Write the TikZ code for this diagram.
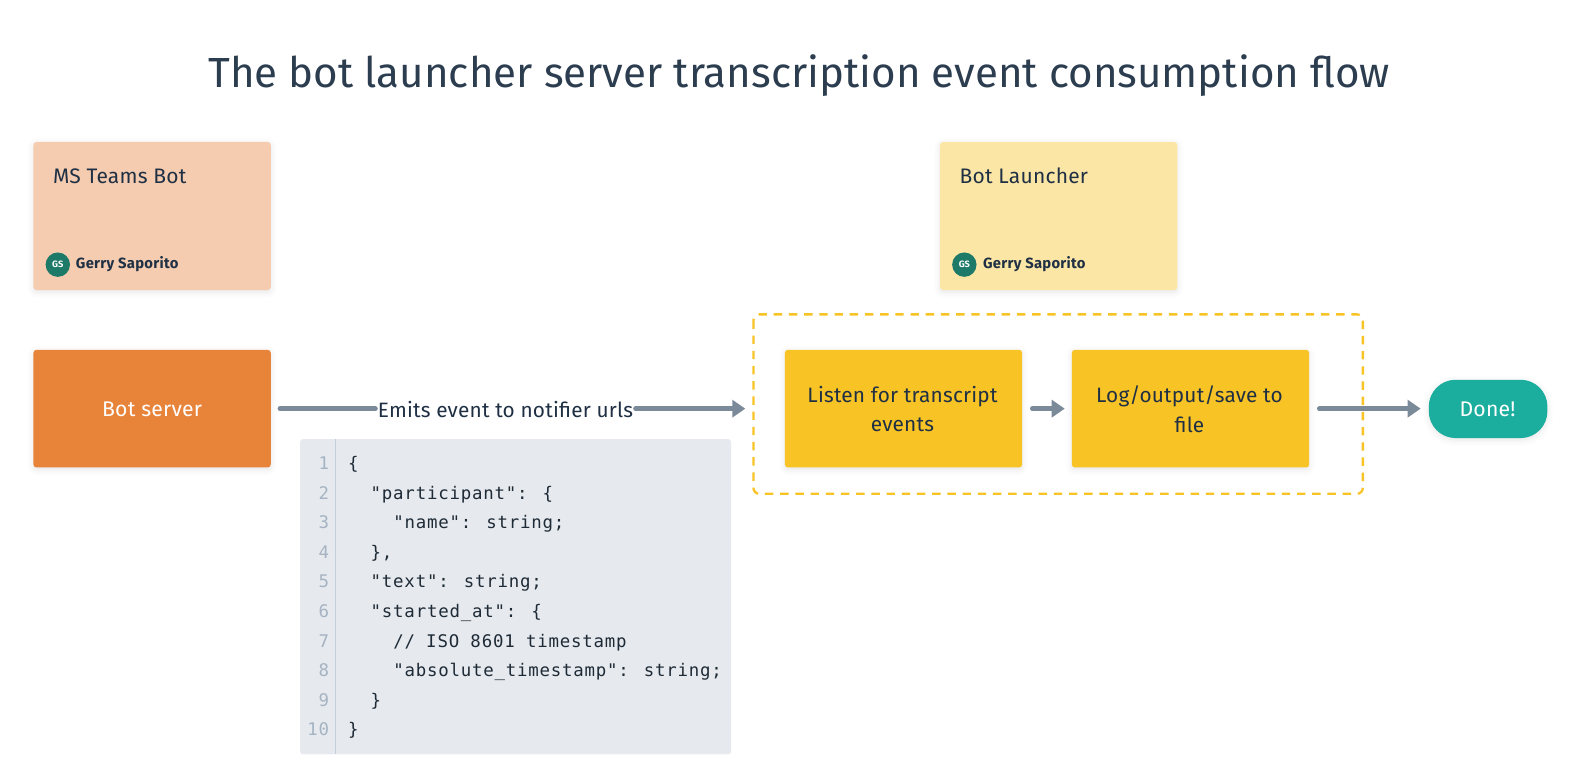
\documentclass[tikz,border=0pt]{standalone}
\usepackage{fontspec}
\setmainfont{Fira Sans}
\newfontfamily\codefont{DejaVu Sans Mono}
\usetikzlibrary{arrows.meta,shadows.blur}
\definecolor{ink}{HTML}{1F3044}
\definecolor{titleink}{HTML}{2B3D4F}
\definecolor{peach}{HTML}{F5CCB0}
\definecolor{paleyellow}{HTML}{FCE6A6}
\definecolor{orangebox}{HTML}{E8833A}
\definecolor{yellowbox}{HTML}{F8C325}
\definecolor{tealbox}{HTML}{1BAE9F}
\definecolor{avatar}{HTML}{1D7A68}
\definecolor{arrowgrey}{HTML}{7B8A99}
\definecolor{codebg}{HTML}{E6EAEE}
\definecolor{gutter}{HTML}{C5CFD9}
\definecolor{lineno}{HTML}{A5B3C2}
\definecolor{codeink}{HTML}{1E2A36}
\tikzset{
  x=0.507pt,y=-0.507pt,
  softshadow/.style={blur shadow={shadow xshift=0pt,shadow yshift=-1pt,shadow blur radius=3pt,shadow opacity=10}},
  card/.style={rounded corners=1.5pt,softshadow,inner sep=0pt,outer sep=0pt},
  label/.style={font=\fontsize{10.4}{14.8}\selectfont\addfontfeature{LetterSpace=1},text=ink,align=center,inner sep=0pt},
  whitelabel/.style={font=\fontsize{10.6}{14}\selectfont\addfontfeature{LetterSpace=1},text=white,inner sep=0pt},
  flow/.style={draw=arrowgrey,line width=2.3pt,line cap=round,-{Triangle[length=6.5pt,width=8.5pt]}},
  codeline/.style={font=\codefont\fontsize{8.7}{10}\selectfont\addfontfeature{LetterSpace=4.5},text=codeink,anchor=base west,inner sep=0pt},
  numline/.style={font=\codefont\fontsize{8.7}{10}\selectfont\addfontfeature{LetterSpace=4.5},text=lineno,anchor=base east,inner sep=0pt},
  avatardot/.style={circle,fill=avatar,minimum size=12.2pt,inner sep=0pt,text=white,font=\fontsize{4.6}{5}\selectfont\bfseries},
  author/.style={font=\fontsize{7.4}{9}\selectfont\bfseries\addfontfeature{LetterSpace=2},text=ink,anchor=base west,inner sep=0pt},
  cardtitle/.style={font=\fontsize{10.5}{12}\selectfont\addfontfeature{LetterSpace=1},text=ink,anchor=base west,inner sep=0pt}
}
\begin{document}
\begin{tikzpicture}
\useasboundingbox (0,0) rectangle (1568,759.3);
\node[font=\fontsize{21.05}{26}\selectfont,text=titleink,inner sep=0pt] (title) at (788,74.5) {The bot launcher server transcription event consumption flow};

% sticky notes
\path[card,fill=peach] (33,140) rectangle (267,286);
\node[cardtitle] (n1) at (52,181) {MS Teams Bot};
\node[avatardot] (a1) at (57,261) {GS};
\node[author] (g1) at (74.5,265) {Gerry Saporito};
\path[card,fill=paleyellow] (927,140) rectangle (1161,286);
\node[cardtitle] (n2) at (946,181) {Bot Launcher};
\node[avatardot] (a2) at (951,261) {GS};
\node[author] (g2) at (969,265) {Gerry Saporito};

% dashed group
\draw[draw=yellowbox,line width=1.15pt,dash pattern=on 4.2pt off 3.4pt,rounded corners=3pt] (743,310) rectangle (1344,487);

% process boxes
\path[card,fill=orangebox] (33,345) rectangle (267,461);
\node[whitelabel] (bot) at (150,403.5) {Bot server};
\coordinate (botE) at (276,403);
\path[card,fill=yellowbox] (774,345) rectangle (1008,461);
\node[label] (listen) at (890,403.5) {Listen for transcript\\events};
\path[card,fill=yellowbox] (1057,345) rectangle (1291,461);
\node[label] (log) at (1173,403.5) {Log/output/save to\\file};
\path[card,fill=tealbox,rounded corners=13.4pt] (1409,374.5) rectangle (1526,432);
\node[whitelabel] (done) at (1467,403.5) {Done!};

% connectors
\node[label,fill=white,inner xsep=1pt,inner ysep=1pt] (emit) at (498.5,403.5) {Emits event to notifier urls};
\coordinate (groupW) at (735,403);
\coordinate (listenE) at (1018,403);
\coordinate (logW) at (1050,403);
\coordinate (logE) at (1301,403);
\coordinate (doneW) at (1401,403);
\draw[draw=arrowgrey,line width=2.3pt,line cap=round] (botE) -- (emit.west |- botE);
\draw[flow] (emit.east |- botE) -- (groupW);
\draw[flow] (listenE) -- (logW);
\draw[flow] (logE) -- (doneW);

% code block
\path[fill=codebg,rounded corners=1.5pt] (296,433) rectangle (721,744);
\draw[gutter,line width=0.6pt] (331,433) -- (331,744);
\foreach \n [count=\i] in {1,...,10}{
  \node[numline] (num\i) at (325,{463+(\i-1)*29.2}) {\n};
}
\node[codeline] (c1) at (343,463) {\{};
\node[codeline] (c2) at (343,492.2) {\ \ "participant": \{};
\node[codeline] (c3) at (343,521.4) {\ \ \ \ "name": string;};
\node[codeline] (c4) at (343,550.6) {\ \ \},};
\node[codeline] (c5) at (343,579.8) {\ \ "text": string;};
\node[codeline] (c6) at (343,609) {\ \ "started\_at": \{};
\node[codeline] (c7) at (343,638.2) {\ \ \ \ // ISO 8601 timestamp};
\node[codeline] (c8) at (343,667.4) {\ \ \ \ "absolute\_timestamp": string;};
\node[codeline] (c9) at (343,696.6) {\ \ \}};
\node[codeline] (c10) at (343,725.8) {\}};
\end{tikzpicture}
\end{document}
